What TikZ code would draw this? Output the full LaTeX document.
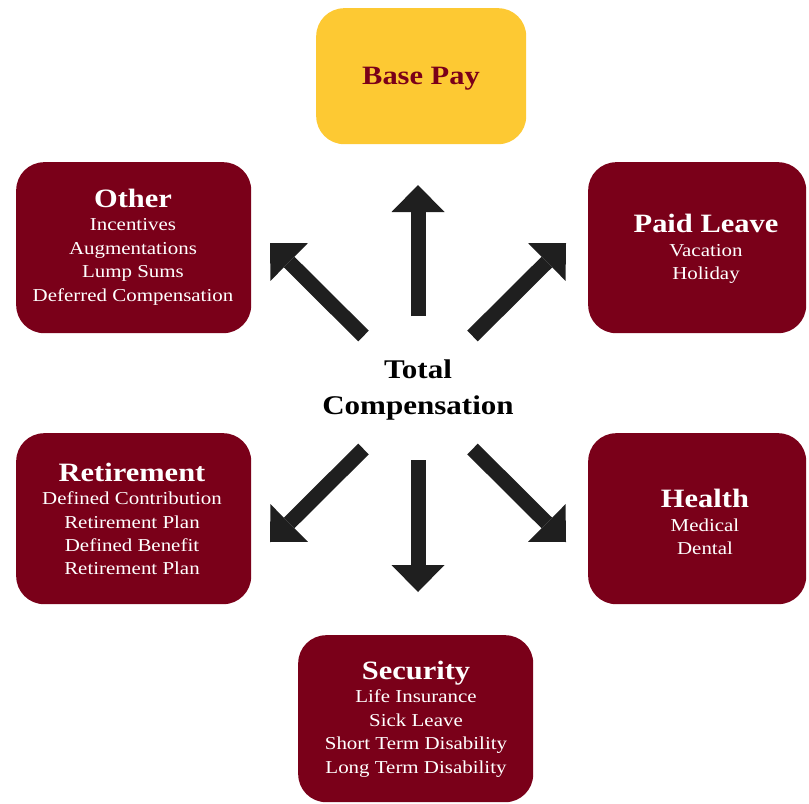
\documentclass[tikz,border=0pt]{standalone}
\usepackage{fontspec}
\setmainfont{Liberation Serif}[FakeStretch=1.15]
\usetikzlibrary{arrows.meta}
\definecolor{maroon}{HTML}{7A0019}
\definecolor{gold}{HTML}{FDC933}
\tikzset{
  box/.style={draw=none, fill=maroon, rounded corners=28bp, anchor=north west, inner sep=0pt},
  boxtext/.style={text=white, align=center, inner sep=0pt, font=\fontsize{18.2bp}{23.4bp}\selectfont},
  bigarrow/.style={line width=15bp, -{Triangle[width=53bp,length=27bp,line width=0pt]}, black!88},
}
\newcommand{\boxtitle}[1]{{\fontsize{26.5bp}{26.7bp}\selectfont\bfseries #1}\\}
\begin{document}
\begin{tikzpicture}[x=1bp,y=-1bp]
\useasboundingbox (0,0) rectangle (809,804);
% boxes
\node[box, fill=gold, minimum width=210bp, minimum height=136bp] (bp) at (316,8) {};
\node[box, minimum width=235bp, minimum height=171bp] (ot) at (16,162) {};
\node[box, minimum width=218bp, minimum height=171bp] (pl) at (588,162) {};
\node[box, minimum width=235bp, minimum height=171bp] (rt) at (16,433) {};
\node[box, minimum width=218bp, minimum height=171bp] (he) at (588,433) {};
\node[box, minimum width=235bp, minimum height=167bp] (se) at (298,635) {};
% texts
\node[inner sep=0pt, text=maroon, font=\fontsize{26.5bp}{26.7bp}\selectfont\bfseries] (bpt) at (421,79) {Base Pay};
\node[boxtext] (ott) at (133,247) {\boxtitle{Other}Incentives\\Augmentations\\Lump Sums\\Deferred Compensation};
\node[boxtext] (plt) at (706,249) {\boxtitle{Paid Leave}Vacation\\Holiday};
\node[boxtext] (rtt) at (132,519) {\boxtitle{Retirement}Defined Contribution\\Retirement Plan\\Defined Benefit\\Retirement Plan};
\node[boxtext] (het) at (705,522) {\boxtitle{Health}Medical\\Dental};
\node[boxtext] (set) at (416,719) {\boxtitle{Security}Life Insurance\\Sick Leave\\Short Term Disability\\Long Term Disability};
\node[align=center, inner sep=0pt, font=\fontsize{27bp}{36.7bp}\selectfont\bfseries] (tc) at (418,390) {Total\\Compensation};
% arrow ends
\coordinate (uT) at (418,316);   \coordinate (uH) at (418,185);
\coordinate (dT) at (418,460);   \coordinate (dH) at (418,592);
\coordinate (ulT) at (363.5,336); \coordinate (ulH) at (270,243);
\coordinate (urT) at (472.5,336); \coordinate (urH) at (566,243);
\coordinate (llT) at (363.5,449); \coordinate (llH) at (270,542);
\coordinate (lrT) at (472.5,449); \coordinate (lrH) at (566,542);
\draw[bigarrow] (uT) -- (uH);
\draw[bigarrow] (dT) -- (dH);
\draw[bigarrow] (ulT) -- (ulH);
\draw[bigarrow] (urT) -- (urH);
\draw[bigarrow] (llT) -- (llH);
\draw[bigarrow] (lrT) -- (lrH);
\end{tikzpicture}
\end{document}
